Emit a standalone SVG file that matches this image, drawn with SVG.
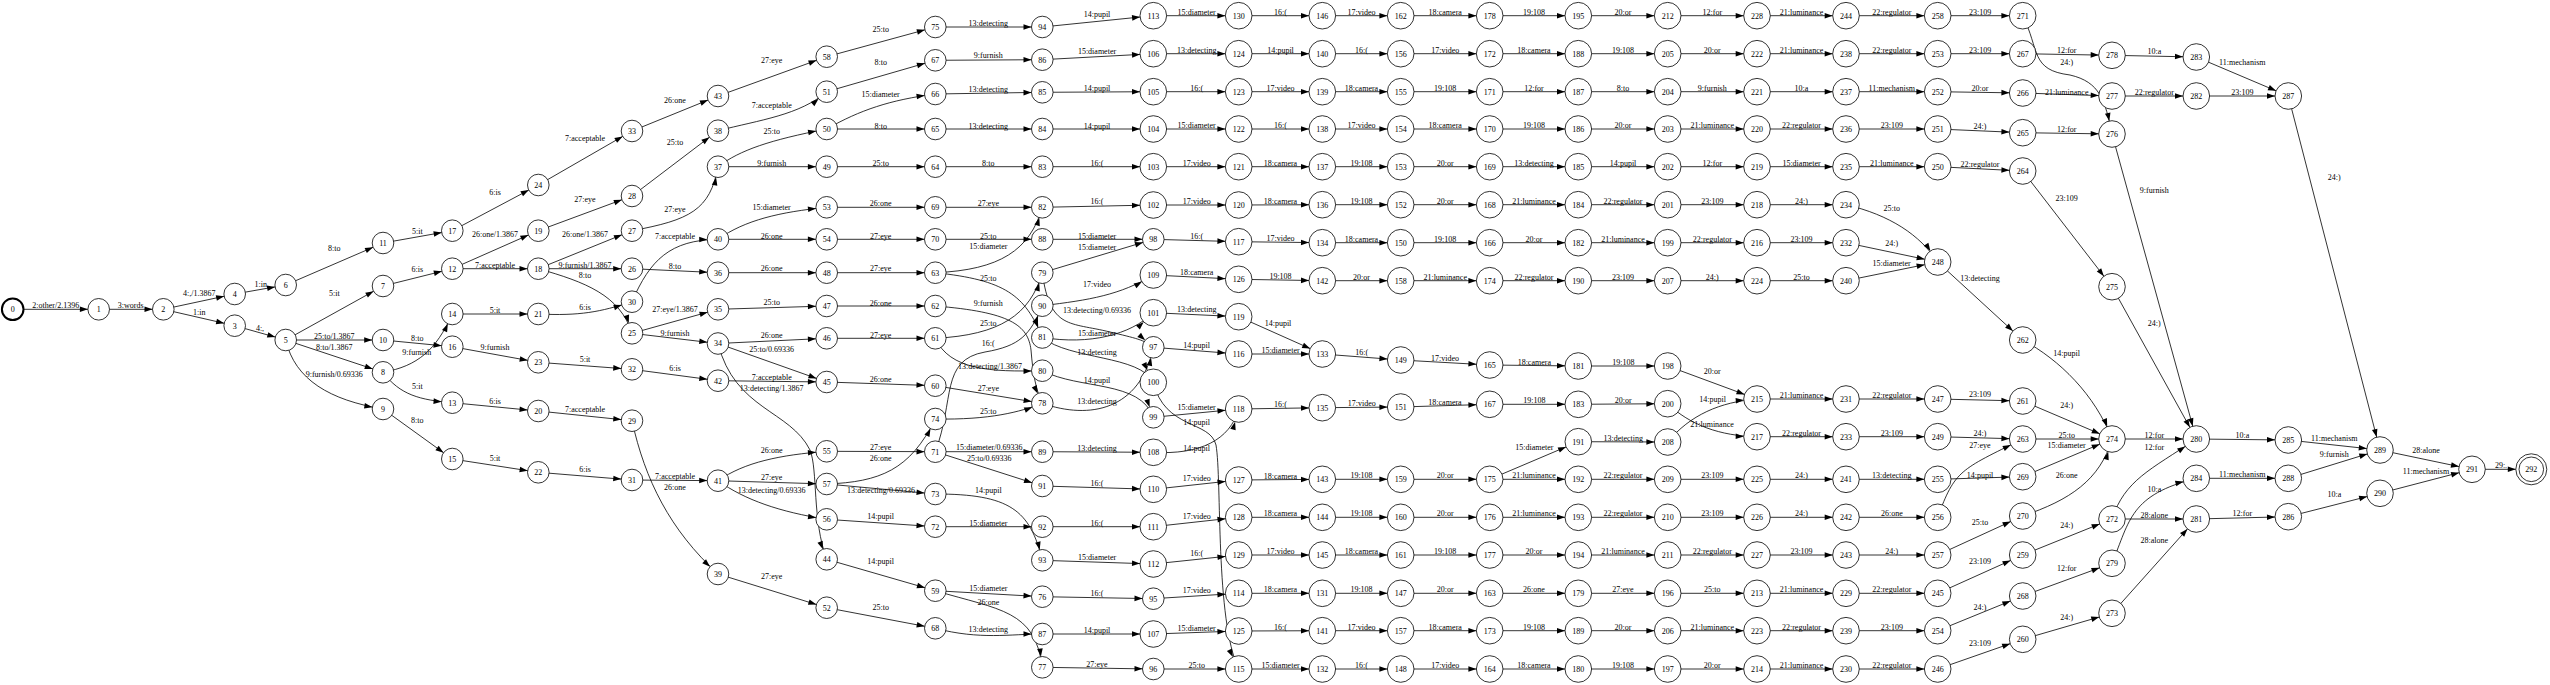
<svg xmlns="http://www.w3.org/2000/svg" width="2550" height="685" viewBox="0 0 2550 685">
<style>
text{font-family:"Liberation Serif","Times New Roman",serif;font-size:8px;text-anchor:middle;fill:#000}
#edges path{fill:none;stroke:#000;stroke-width:0.8;marker-end:url(#a)}
#edges .e3 path{marker-end:url(#b)}
#edges path.c{marker-end:url(#c)}
#nodes circle{fill:#fff;stroke:#000;stroke-width:0.8}
</style>
<defs>
<marker id="a" markerUnits="userSpaceOnUse" markerWidth="30" markerHeight="8" refX="18.8" refY="2.8" orient="auto" overflow="visible"><path d="M0,0L8,2.8L0,5.6z" fill="#000"/></marker>
<marker id="b" markerUnits="userSpaceOnUse" markerWidth="30" markerHeight="8" refX="21.3" refY="2.8" orient="auto" overflow="visible"><path d="M0,0L8,2.8L0,5.6z" fill="#000"/></marker>
<marker id="c" markerUnits="userSpaceOnUse" markerWidth="30" markerHeight="8" refX="23.5" refY="2.8" orient="auto" overflow="visible"><path d="M0,0L8,2.8L0,5.6z" fill="#000"/></marker>
</defs>
<rect width="2550" height="685" fill="#fff"/>
<g id="edges">
<g class="e1">
<path d="M12.7 309.3H98.7"/><text x="55.7" y="307.8">2:other/2.1396</text>
<path d="M98.7 309.3H163.3"/><text x="130.7" y="307.8">3:words</text>
<path d="M163.3 309.3L234.7 294"/><text x="199.3" y="296.1">4:,/1.3867</text>
<path d="M163.3 309.3L234.7 325.7"/><text x="199.3" y="314.5">1:in</text>
<path d="M234.7 294L285.7 285"/><text x="260.7" y="287.1">1:in</text>
<path d="M234.7 325.7L285.7 340"/><text x="260" y="331.1">4:,</text>
<path d="M285.7 285L383 243"/><text x="334.3" y="251.1">8:to</text>
<path d="M285.7 340L383 286"/><text x="334.3" y="295.5">5:it</text>
<path d="M285.7 340H383"/><text x="334.3" y="338.8">25:to/1.3867</text>
<path d="M285.7 340L383 372.3"/><text x="334.3" y="349.5">8:to/1.3867</text>
<path d="M285.7 340C295 380 330 400 383 409"/><text x="334.3" y="376.8">9:furnish/0.69336</text>
<path d="M383 243L452.3 230.7"/><text x="417.3" y="233.5">5:it</text>
<path d="M383 286L452.3 268.7"/><text x="417.3" y="272.1">6:is</text>
<path d="M383 340L452.3 346.7"/><text x="417.3" y="340.5">8:to</text>
<path d="M383 372.3C418 366 436 350 452.3 314"/><text x="416.7" y="354.5">9:furnish</text>
<path d="M383 372.3C400 395 420 400 452.3 402.7"/><text x="417.3" y="388.8">5:it</text>
<path d="M383 409L452.3 459"/><text x="417.3" y="422.8">8:to</text>
<path d="M452.3 230.7L538.3 185"/><text x="495" y="195.1">6:is</text>
<path d="M452.3 268.7L538.3 230.7"/><text x="495" y="236.8">26:one/1.3867</text>
<path d="M452.3 268.7H538.3"/><text x="495" y="267.8">7:acceptable</text>
<path d="M452.3 314H538.3"/><text x="495" y="312.8">5:it</text>
<path d="M452.3 346.7L538.3 362.3"/><text x="495" y="349.5">9:furnish</text>
<path d="M452.3 402.7L538.3 411"/><text x="495" y="403.8">6:is</text>
<path d="M452.3 459L538.3 472.3"/><text x="495" y="461.1">5:it</text>
<path d="M538.3 185L632 131"/><text x="585" y="141.1">7:acceptable</text>
<path d="M538.3 230.7L632 196"/><text x="585" y="202.1">27:eye</text>
<path d="M538.3 268.7L632 230.7"/><text x="585" y="236.8">26:one/1.3867</text>
<path d="M538.3 268.7H632"/><text x="585" y="267.8">9:furnish/1.3867</text>
<path d="M538.3 268.7C585 282 620 295 632 333.3"/><text x="585" y="278.1">8:to</text>
<path d="M538.3 314C580 316 600 312 632 301.7"/><text x="585" y="310.1">6:is</text>
<path d="M538.3 362.3L632 369.3"/><text x="585" y="362.1">5:it</text>
<path d="M538.3 411L632 420.7"/><text x="585" y="411.8">7:acceptable</text>
<path d="M538.3 472.3L632 480"/><text x="585" y="471.8">6:is</text>
<path d="M632 131L718 96"/><text x="675" y="102.8">26:one</text>
<path d="M632 196L718 130.7"/><text x="675" y="145.1">25:to</text>
<path d="M632 230.7C690 220 710 210 718 166.7"/><text x="675" y="212.1">27:eye</text>
<path d="M632 301.7C650 260 670 240 718 239.3"/><text x="675" y="238.8">7:acceptable</text>
<path d="M632 268.7L718 272.7"/><text x="675" y="268.8">8:to</text>
<path d="M632 333.3L718 309.3"/><text x="675" y="312.1">27:eye/1.3867</text>
<path d="M632 333.3L718 343.5"/><text x="675" y="335.5">9:furnish</text>
<path d="M632 369.3L718 380.7"/><text x="675" y="371.1">6:is</text>
<path d="M632 480L718 480.7"/><text x="675" y="478.8">7:acceptable</text>
<path d="M632 420.7C645 480 670 530 718 574"/><text x="675" y="489.8">26:one</text>
<path d="M718 96L826.7 56.7"/><text x="771.7" y="63.1">27:eye</text>
<path d="M718 130.7C760 120 800 115 826.7 91.7"/><text x="771.7" y="108.1">7:acceptable</text>
<path d="M718 166.7C740 150 770 140 826.7 129"/><text x="771.7" y="133.8">25:to</text>
<path d="M718 166.7H826.7"/><text x="771.7" y="166.1">9:furnish</text>
<path d="M718 239.3C745 220 780 212 826.7 207.3"/><text x="771.7" y="210.1">15:diameter</text>
<path d="M718 239.3H826.7"/><text x="771.7" y="238.8">26:one</text>
<path d="M718 272.7H826.7"/><text x="771.7" y="271.1">26:one</text>
<path d="M718 309.3L826.7 306"/><text x="771.7" y="305.1">25:to</text>
<path d="M718 343.5L826.7 338.3"/><text x="771.7" y="337.8">26:one</text>
<path d="M718 343.5L826.7 382"/><text x="771.7" y="351.8">25:to/0.69336</text>
<path d="M718 380.7L826.7 382"/><text x="771.7" y="380.1">7:acceptable</text>
<path d="M718 343.5C735 410 790 410 810 450C818 470 812 520 826.7 559.3"/><text x="771.7" y="391.1">13:detecting/1.3867</text>
<path d="M718 480.7C745 462 780 455 826.7 451.3"/><text x="771.7" y="452.8">26:one</text>
<path d="M718 480.7L826.7 484"/><text x="771.7" y="479.8">27:eye</text>
<path d="M718 480.7C745 500 780 512 826.7 519.3"/><text x="771.7" y="492.8">13:detecting/0.69336</text>
<path d="M718 574L826.7 607.7"/><text x="771.7" y="578.8">27:eye</text>
<path d="M826.7 56.7L935.3 27"/><text x="880.7" y="32.1">25:to</text>
<path d="M826.7 91.7L935.3 60.3"/><text x="880.7" y="65.1">8:to</text>
<path d="M826.7 129C860 110 890 100 935.3 94"/><text x="880.7" y="97.1">15:diameter</text>
<path d="M826.7 129H935.3"/><text x="880.7" y="128.5">8:to</text>
<path d="M826.7 166.7H935.3"/><text x="880.7" y="166.1">25:to</text>
<path d="M826.7 207.3H935.3"/><text x="880.7" y="206.1">26:one</text>
<path d="M826.7 239.3H935.3"/><text x="880.7" y="238.8">27:eye</text>
<path d="M826.7 272.7H935.3"/><text x="880.7" y="271.1">27:eye</text>
<path d="M826.7 306H935.3"/><text x="880.7" y="305.5">26:one</text>
<path d="M826.7 338.3H935.3"/><text x="880.7" y="337.8">27:eye</text>
<path d="M826.7 382L935.3 385.7"/><text x="880.7" y="381.8">26:one</text>
<path d="M826.7 451.3L935.3 451.7"/><text x="880.7" y="450.1">27:eye</text>
<path d="M826.7 484C880 482 910 470 935.3 419"/><text x="880.7" y="461.1">26:one</text>
<path d="M826.7 484L935.3 494"/><text x="881" y="492.8">13:detecting/0.69336</text>
<path d="M826.7 519.3L935.3 526.7"/><text x="880.7" y="518.8">14:pupil</text>
<path d="M826.7 559.3L935.3 590.7"/><text x="880.7" y="563.8">14:pupil</text>
<path d="M826.7 607.7L935.3 628.3"/><text x="880.7" y="610.1">25:to</text>
<path d="M935.3 27H1042.3"/><text x="988.3" y="26.1">13:detecting</text>
<path d="M935.3 60.3L1042.3 59.7"/><text x="988.3" y="57.8">9:furnish</text>
<path d="M935.3 94L1042.3 92.3"/><text x="988.3" y="91.8">13:detecting</text>
<path d="M935.3 129H1042.3"/><text x="988.3" y="128.5">13:detecting</text>
<path d="M935.3 166.7H1042.3"/><text x="988.3" y="166.1">8:to</text>
<path d="M935.3 207.3H1042.3"/><text x="988.3" y="206.1">27:eye</text>
<path d="M935.3 239.3H1042.3"/><text x="988.3" y="238.8">25:to</text>
<path d="M935.3 272.7C1000 270 1030 250 1042.3 207.3"/><text x="988.3" y="248.8">15:diameter</text>
<path d="M935.3 272.7C1005 280 1025 295 1042.3 337.5"/><text x="988.3" y="281.1">25:to</text>
<path d="M935.3 306C1010 312 1028 325 1031 350C1033 375 1036 390 1042.3 403.3"/><text x="988.3" y="306.1">9:furnish</text>
<path d="M935.3 338.3C1000 335 1030 315 1042.3 272.7"/><text x="988.3" y="326.1">25:to</text>
<path d="M935.3 451.7C955 400 940 360 985 352C1020 346 1030 335 1042.3 305.7"/><text x="988.3" y="346.1">16:(</text>
<path d="M935.3 338.3C950 370 990 372 1042.3 370.7"/><text x="990" y="368.8">13:detecting/1.3867</text>
<path d="M935.3 385.7L1042.3 403.3"/><text x="988.3" y="391.1">27:eye</text>
<path d="M935.3 419C990 420 1020 412 1042.3 403.3"/><text x="988.3" y="413.8">25:to</text>
<path d="M935.3 451.7H1042.3"/><text x="989.3" y="450.1">15:diameter/0.69336</text>
<path d="M935.3 451.7L1042.3 486"/><text x="989.3" y="461.1">25:to/0.69336</text>
<path d="M935.3 494C1010 494 1030 510 1042.3 560.3"/><text x="988.3" y="492.8">14:pupil</text>
<path d="M935.3 526.7H1042.3"/><text x="988.3" y="525.5">15:diameter</text>
<path d="M935.3 590.7L1042.3 596.7"/><text x="988.3" y="590.5">15:diameter</text>
<path d="M935.3 590.7C1000 610 1035 610 1042.3 667.3"/><text x="988.3" y="605.1">26:one</text>
<path d="M935.3 628.3C980 640 1010 634 1042.3 634"/><text x="988.3" y="632.1">13:detecting</text>
<path d="M1042.3 239.3H1153.3"/><text x="1097" y="238.8">15:diameter</text>
<path d="M1042.3 272.7L1153.3 239.3"/><text x="1097" y="249.5">15:diameter</text>
<path d="M1042.3 272.7C1050 330 1070 322 1110 332C1135 338 1145 340 1153.3 347.3"/><text x="1097" y="312.8">13:detecting/0.69336</text>
<path d="M1042.3 403.3C1090 420 1140 410 1153.3 347.3"/><text x="1097" y="403.8">13:detecting</text>
<path d="M1042.3 370.7C1080 390 1140 380 1153.3 417.3"/><text x="1097" y="382.8">14:pupil</text>
<path d="M1042.3 596.7L1153.3 598.7"/><text x="1097" y="595.5">16:(</text>
<path d="M1042.3 667.3L1153.3 669"/><text x="1097" y="666.8">27:eye</text>
</g>
<g class="e3">
<path d="M1042.3 27L1153.3 15.7"/><text x="1097" y="17.1">14:pupil</text>
<path d="M1042.3 59.7L1153.3 53.7"/><text x="1097" y="53.8">15:diameter</text>
<path d="M1042.3 92.3L1153.3 91.7"/><text x="1097" y="90.5">14:pupil</text>
<path d="M1042.3 129H1153.3"/><text x="1097" y="128.5">14:pupil</text>
<path d="M1042.3 166.7H1153.3"/><text x="1097" y="166.1">16:(</text>
<path d="M1042.3 207.3L1153.3 205"/><text x="1097" y="203.8">16:(</text>
<path d="M1042.3 305.7C1090 300 1120 295 1153.3 275"/><text x="1097" y="287.1">17:video</text>
<path d="M1042.3 337.5C1090 345 1130 335 1153.3 312.7"/><text x="1097" y="336.1">15:diameter</text>
<path d="M1042.3 337.5C1070 360 1140 355 1153.3 382.3"/><text x="1097" y="354.5">13:detecting</text>
<path d="M1042.3 451.7L1153.3 452.3"/><text x="1097" y="450.5">13:detecting</text>
<path d="M1042.3 486L1153.3 489.3"/><text x="1097" y="486.1">16:(</text>
<path d="M1042.3 526.7H1153.3"/><text x="1097" y="525.5">16:(</text>
<path d="M1042.3 560.3L1153.3 564"/><text x="1097" y="560.1">15:diameter</text>
<path d="M1042.3 634H1153.3"/><text x="1097" y="632.8">14:pupil</text>
<path d="M1153.3 15.7H1238.7"/><text x="1196.7" y="14.7">15:diameter</text>
<path d="M1153.3 53.7H1238.7"/><text x="1196.7" y="52.7">13:detecting</text>
<path d="M1153.3 91.7H1238.7"/><text x="1196.7" y="90.7">16:(</text>
<path d="M1153.3 129H1238.7"/><text x="1196.7" y="128">15:diameter</text>
<path d="M1153.3 166.7H1238.7"/><text x="1196.7" y="165.7">17:video</text>
<path d="M1153.3 205H1238.7"/><text x="1196.7" y="204">17:video</text>
<path d="M1153.3 239.3L1238.7 241.7"/><text x="1196.7" y="238.8">16:(</text>
<path d="M1153.3 275L1238.7 279.3"/><text x="1196.7" y="274.5">18:camera</text>
<path d="M1153.3 312.7L1238.7 316.7"/><text x="1196.7" y="312.1">13:detecting</text>
<path d="M1153.3 347.3L1238.7 354"/><text x="1196.7" y="347.8">14:pupil</text>
<path d="M1153.3 417.3L1238.7 409"/><text x="1196.7" y="409.5">15:diameter</text>
<path d="M1153.3 382.3C1165 430 1210 420 1216 445C1222 480 1215 620 1238.7 669"/><text x="1196.7" y="424.5">14:pupil</text>
<path d="M1153.3 452.3C1200 455 1230 440 1238.7 409"/><text x="1196.7" y="450.5">14:pupil</text>
<path d="M1153.3 489.3L1238.7 480"/><text x="1196.7" y="480.5">17:video</text>
<path d="M1153.3 526.7L1238.7 517.3"/><text x="1196.7" y="518.5">17:video</text>
<path d="M1153.3 564L1238.7 555"/><text x="1196.7" y="556.1">16:(</text>
<path d="M1153.3 598.7L1238.7 593.3"/><text x="1196.7" y="592.8">17:video</text>
<path d="M1153.3 634L1238.7 631"/><text x="1196.7" y="630.5">15:diameter</text>
<path d="M1153.3 669H1238.7"/><text x="1196.7" y="667.8">25:to</text>
<path d="M1238.7 15.7H1322.3"/><text x="1280.5" y="14.7">16:(</text>
<path d="M1238.7 53.7H1322.3"/><text x="1280.5" y="52.7">14:pupil</text>
<path d="M1238.7 91.7H1322.3"/><text x="1280.5" y="90.7">17:video</text>
<path d="M1238.7 129H1322.3"/><text x="1280.5" y="128">16:(</text>
<path d="M1238.7 166.7H1322.3"/><text x="1280.5" y="165.7">18:camera</text>
<path d="M1238.7 205L1322.3 204.7"/><text x="1280.5" y="203.8">18:camera</text>
<path d="M1238.7 241.7L1322.3 242.7"/><text x="1280.5" y="241.2">17:video</text>
<path d="M1238.7 279.3L1322.3 280.7"/><text x="1280.5" y="279">19:108</text>
<path d="M1238.7 316.7L1322.3 354"/><text x="1278" y="325.5">14:pupil</text>
<path d="M1238.7 354H1322.3"/><text x="1280.5" y="353">15:diameter</text>
<path d="M1238.7 409L1322.3 407.7"/><text x="1280.5" y="407.3">16:(</text>
<path d="M1238.7 480L1322.3 479.3"/><text x="1280.5" y="478.6">18:camera</text>
<path d="M1238.7 517.3H1322.3"/><text x="1280.5" y="516.3">18:camera</text>
<path d="M1238.7 555H1322.3"/><text x="1280.5" y="554">17:video</text>
<path d="M1238.7 593.3H1322.3"/><text x="1280.5" y="592.3">18:camera</text>
<path d="M1238.7 631L1322.3 630.7"/><text x="1280.5" y="629.8">16:(</text>
<path d="M1238.7 669H1322.3"/><text x="1280.5" y="668">15:diameter</text>
<path d="M1322.3 15.7H1400.7"/><text x="1361.5" y="14.7">17:video</text>
<path d="M1400.7 15.7H1489.7"/><text x="1445.2" y="14.7">18:camera</text>
<path d="M1489.7 15.7H1578.3"/><text x="1534" y="14.7">19:108</text>
<path d="M1578.3 15.7H1667.7"/><text x="1623" y="14.7">20:or</text>
<path d="M1667.7 15.7H1757"/><text x="1712.3" y="14.7">12:for</text>
<path d="M1757 15.7H1846"/><text x="1801.5" y="14.7">21:luminance</text>
<path d="M1846 15.7H1937.7"/><text x="1891.8" y="14.7">22:regulator</text>
<path d="M1937.7 15.7H2022.7"/><text x="1980.2" y="14.7">23:109</text>
<path d="M2022.7 15.7C2040 50 2030 70 2070 75C2100 82 2105 100 2112 134"/><text x="2066.7" y="64.5">24:)</text>
<path d="M1322.3 53.7H1400.7"/><text x="1361.5" y="52.7">16:(</text>
<path d="M1400.7 53.7H1489.7"/><text x="1445.2" y="52.7">17:video</text>
<path d="M1489.7 53.7H1578.3"/><text x="1534" y="52.7">18:camera</text>
<path d="M1578.3 53.7H1667.7"/><text x="1623" y="52.7">19:108</text>
<path d="M1667.7 53.7H1757"/><text x="1712.3" y="52.7">20:or</text>
<path d="M1757 53.7H1846"/><text x="1801.5" y="52.7">21:luminance</text>
<path d="M1846 53.7H1937.7"/><text x="1891.8" y="52.7">22:regulator</text>
<path d="M1937.7 53.7H2022.7"/><text x="1980.2" y="52.7">23:109</text>
<path d="M2022.7 53.7L2112 55.3"/><text x="2066.7" y="52.8">12:for</text>
<path d="M1322.3 91.7H1400.7"/><text x="1361.5" y="90.7">18:camera</text>
<path d="M1400.7 91.7H1489.7"/><text x="1445.2" y="90.7">19:108</text>
<path d="M1489.7 91.7H1578.3"/><text x="1534" y="90.7">12:for</text>
<path d="M1578.3 91.7H1667.7"/><text x="1623" y="90.7">8:to</text>
<path d="M1667.7 91.7H1757"/><text x="1712.3" y="90.7">9:furnish</text>
<path d="M1757 91.7H1846"/><text x="1801.5" y="90.7">10:a</text>
<path d="M1846 91.7H1937.7"/><text x="1891.8" y="90.7">11:mechanism</text>
<path d="M1937.7 91.7L2022.7 93"/><text x="1980" y="90.5">20:or</text>
<path d="M2022.7 93L2112 96"/><text x="2066.7" y="94.8">21:luminance</text>
<path d="M1322.3 129H1400.7"/><text x="1361.5" y="128">17:video</text>
<path d="M1400.7 129H1489.7"/><text x="1445.2" y="128">18:camera</text>
<path d="M1489.7 129H1578.3"/><text x="1534" y="128">19:108</text>
<path d="M1578.3 129H1667.7"/><text x="1623" y="128">20:or</text>
<path d="M1667.7 129H1757"/><text x="1712.3" y="128">21:luminance</text>
<path d="M1757 129H1846"/><text x="1801.5" y="128">22:regulator</text>
<path d="M1846 129H1937.7"/><text x="1891.8" y="128">23:109</text>
<path d="M1937.7 129L2022.7 132.7"/><text x="1980" y="128.8">24:)</text>
<path d="M2022.7 132.7L2112 134"/><text x="2066.7" y="131.8">12:for</text>
<path d="M1322.3 166.7H1400.7"/><text x="1361.5" y="165.7">19:108</text>
<path d="M1400.7 166.7H1489.7"/><text x="1445.2" y="165.7">20:or</text>
<path d="M1489.7 166.7H1578.3"/><text x="1534" y="165.7">13:detecting</text>
<path d="M1578.3 166.7H1667.7"/><text x="1623" y="165.7">14:pupil</text>
<path d="M1667.7 166.7H1757"/><text x="1712.3" y="165.7">12:for</text>
<path d="M1757 166.7H1846"/><text x="1801.5" y="165.7">15:diameter</text>
<path d="M1846 166.7H1937.7"/><text x="1891.8" y="165.7">21:luminance</text>
<path d="M1937.7 166.7L2022.7 171"/><text x="1980" y="166.8">22:regulator</text>
<path d="M2022.7 171L2112 286.7"/><text x="2066.7" y="201.1">23:109</text>
<path d="M1322.3 204.7H1400.7"/><text x="1361.5" y="203.7">19:108</text>
<path d="M1400.7 204.7H1489.7"/><text x="1445.2" y="203.7">20:or</text>
<path d="M1489.7 204.7H1578.3"/><text x="1534" y="203.7">21:luminance</text>
<path d="M1578.3 204.7H1667.7"/><text x="1623" y="203.7">22:regulator</text>
<path d="M1667.7 204.7H1757"/><text x="1712.3" y="203.7">23:109</text>
<path d="M1757 204.7H1846"/><text x="1801.5" y="203.7">24:)</text>
<path d="M1846 204.7C1890 215 1920 235 1937.7 262"/><text x="1891.7" y="211.1">25:to</text>
<path d="M1322.3 242.7H1400.7"/><text x="1361.5" y="241.7">18:camera</text>
<path d="M1400.7 242.7H1489.7"/><text x="1445.2" y="241.7">19:108</text>
<path d="M1489.7 242.7H1578.3"/><text x="1534" y="241.7">20:or</text>
<path d="M1578.3 242.7H1667.7"/><text x="1623" y="241.7">21:luminance</text>
<path d="M1667.7 242.7H1757"/><text x="1712.3" y="241.7">22:regulator</text>
<path d="M1757 242.7H1846"/><text x="1801.5" y="241.7">23:109</text>
<path d="M1846 242.7L1937.7 262"/><text x="1891.7" y="246.1">24:)</text>
<path d="M1322.3 280.7H1400.7"/><text x="1361.5" y="279.7">20:or</text>
<path d="M1400.7 280.7H1489.7"/><text x="1445.2" y="279.7">21:luminance</text>
<path d="M1489.7 280.7H1578.3"/><text x="1534" y="279.7">22:regulator</text>
<path d="M1578.3 280.7H1667.7"/><text x="1623" y="279.7">23:109</text>
<path d="M1667.7 280.7H1757"/><text x="1712.3" y="279.7">24:)</text>
<path d="M1757 280.7H1846"/><text x="1801.5" y="279.7">25:to</text>
<path d="M1846 280.7L1937.7 262"/><text x="1891.7" y="266.1">15:diameter</text>
<path d="M1937.7 262L2022.7 340"/><text x="1980" y="281.1">13:detecting</text>
<path d="M2022.7 340C2060 360 2095 395 2112 439"/><text x="2066.7" y="355.5">14:pupil</text>
<path d="M1322.3 354L1400.7 360"/><text x="1361.7" y="355.1">16:(</text>
<path d="M1400.7 360L1489.7 365"/><text x="1445" y="360.5">17:video</text>
<path d="M1489.7 365L1578.3 366"/><text x="1534.3" y="364.5">18:camera</text>
<path d="M1578.3 366H1667.7"/><text x="1623.3" y="365.1">19:108</text>
<path d="M1667.7 366L1757 399"/><text x="1712.3" y="373.8">20:or</text>
<path d="M1322.3 407.7L1400.7 407"/><text x="1361.7" y="405.5">17:video</text>
<path d="M1400.7 407L1489.7 404.3"/><text x="1445" y="404.5">18:camera</text>
<path d="M1489.7 404.3H1578.3"/><text x="1534.3" y="403.1">19:108</text>
<path d="M1578.3 404.3L1667.7 403.7"/><text x="1623.3" y="403.1">20:or</text>
<path d="M1667.7 403.7C1690 425 1720 436 1757 436.7"/><text x="1712" y="426.8">21:luminance</text>
<path d="M1667.7 442C1690 415 1720 402 1757 399"/><text x="1712.6" y="401.8">14:pupil</text>
<path d="M1489.7 479.3L1578.3 441.7"/><text x="1534.3" y="449.5">15:diameter</text>
<path d="M1578.3 441.7L1667.7 442"/><text x="1623.3" y="441.1">13:detecting</text>
<path d="M1757 399H1846"/><text x="1801.5" y="398">21:luminance</text>
<path d="M1846 399H1937.7"/><text x="1891.8" y="398">22:regulator</text>
<path d="M1937.7 399L2022.7 401"/><text x="1980" y="397.1">23:109</text>
<path d="M2022.7 401L2112 439"/><text x="2066.7" y="407.8">24:)</text>
<path d="M1757 436.7H1846"/><text x="1801.5" y="435.7">22:regulator</text>
<path d="M1846 436.7H1937.7"/><text x="1891.8" y="435.7">23:109</text>
<path d="M1937.7 436.7L2022.7 439"/><text x="1980" y="436.1">24:)</text>
<path d="M2022.7 439H2112"/><text x="2066.7" y="438.1">25:to</text>
<path d="M1322.3 479.3H1400.7"/><text x="1361.5" y="478.3">19:108</text>
<path d="M1400.7 479.3H1489.7"/><text x="1445.2" y="478.3">20:or</text>
<path d="M1489.7 479.3H1578.3"/><text x="1534" y="478.3">21:luminance</text>
<path d="M1578.3 479.3H1667.7"/><text x="1623" y="478.3">22:regulator</text>
<path d="M1667.7 479.3H1757"/><text x="1712.3" y="478.3">23:109</text>
<path d="M1757 479.3H1846"/><text x="1801.5" y="478.3">24:)</text>
<path d="M1846 479.3H1937.7"/><text x="1891.8" y="478.3">13:detecting</text>
<path d="M1937.7 479.3L2022.7 476.7"/><text x="1980" y="478.1">14:pupil</text>
<path d="M2022.7 476.7L2112 439"/><text x="2066.7" y="448.1">15:diameter</text>
<path d="M1322.3 517.3H1400.7"/><text x="1361.5" y="516.3">19:108</text>
<path d="M1400.7 517.3H1489.7"/><text x="1445.2" y="516.3">20:or</text>
<path d="M1489.7 517.3H1578.3"/><text x="1534" y="516.3">21:luminance</text>
<path d="M1578.3 517.3H1667.7"/><text x="1623" y="516.3">22:regulator</text>
<path d="M1667.7 517.3H1757"/><text x="1712.3" y="516.3">23:109</text>
<path d="M1757 517.3H1846"/><text x="1801.5" y="516.3">24:)</text>
<path d="M1846 517.3H1937.7"/><text x="1891.8" y="516.3">26:one</text>
<path d="M1937.7 517.3C1955 470 1960 470 2022.7 439"/><text x="1980" y="448.1">27:eye</text>
<path d="M1322.3 555H1400.7"/><text x="1361.5" y="554">18:camera</text>
<path d="M1400.7 555H1489.7"/><text x="1445.2" y="554">19:108</text>
<path d="M1489.7 555H1578.3"/><text x="1534" y="554">20:or</text>
<path d="M1578.3 555H1667.7"/><text x="1623" y="554">21:luminance</text>
<path d="M1667.7 555H1757"/><text x="1712.3" y="554">22:regulator</text>
<path d="M1757 555H1846"/><text x="1801.5" y="554">23:109</text>
<path d="M1846 555H1937.7"/><text x="1891.8" y="554">24:)</text>
<path d="M1937.7 555L2022.7 516"/><text x="1980" y="525.1">25:to</text>
<path d="M2022.7 516C2070 500 2100 480 2112 439"/><text x="2066.7" y="477.8">26:one</text>
<path d="M1322.3 593.3H1400.7"/><text x="1361.5" y="592.3">19:108</text>
<path d="M1400.7 593.3H1489.7"/><text x="1445.2" y="592.3">20:or</text>
<path d="M1489.7 593.3H1578.3"/><text x="1534" y="592.3">26:one</text>
<path d="M1578.3 593.3H1667.7"/><text x="1623" y="592.3">27:eye</text>
<path d="M1667.7 593.3H1757"/><text x="1712.3" y="592.3">25:to</text>
<path d="M1757 593.3H1846"/><text x="1801.5" y="592.3">21:luminance</text>
<path d="M1846 593.3H1937.7"/><text x="1891.8" y="592.3">22:regulator</text>
<path d="M1937.7 593.3L2022.7 555"/><text x="1980" y="563.8">23:109</text>
<path d="M2022.7 555L2112 519"/><text x="2066.7" y="527.8">24:)</text>
<path d="M1322.3 630.7H1400.7"/><text x="1361.5" y="629.7">17:video</text>
<path d="M1400.7 630.7H1489.7"/><text x="1445.2" y="629.7">18:camera</text>
<path d="M1489.7 630.7H1578.3"/><text x="1534" y="629.7">19:108</text>
<path d="M1578.3 630.7H1667.7"/><text x="1623" y="629.7">20:or</text>
<path d="M1667.7 630.7H1757"/><text x="1712.3" y="629.7">21:luminance</text>
<path d="M1757 630.7H1846"/><text x="1801.5" y="629.7">22:regulator</text>
<path d="M1846 630.7H1937.7"/><text x="1891.8" y="629.7">23:109</text>
<path d="M1937.7 630.7L2022.7 596"/><text x="1980" y="609.5">24:)</text>
<path d="M2022.7 596L2112 563.3"/><text x="2066.7" y="571.1">12:for</text>
<path d="M1322.3 669H1400.7"/><text x="1361.5" y="668">16:(</text>
<path d="M1400.7 669H1489.7"/><text x="1445.2" y="668">17:video</text>
<path d="M1489.7 669H1578.3"/><text x="1534" y="668">18:camera</text>
<path d="M1578.3 669H1667.7"/><text x="1623" y="668">19:108</text>
<path d="M1667.7 669H1757"/><text x="1712.3" y="668">20:or</text>
<path d="M1757 669H1846"/><text x="1801.5" y="668">21:luminance</text>
<path d="M1846 669H1937.7"/><text x="1891.8" y="668">22:regulator</text>
<path d="M1937.7 669L2022.7 639.3"/><text x="1980" y="646.1">23:109</text>
<path d="M2022.7 639.3L2112 613.3"/><text x="2066.7" y="619.5">24:)</text>
<path d="M2112 439H2196.3"/><text x="2154.3" y="437.5">12:for</text>
<path d="M2112 519C2125 480 2150 470 2196.3 439"/><text x="2154.3" y="450.1">12:for</text>
<path d="M2112 519H2196.3"/><text x="2154.3" y="517.8">28:alone</text>
<path d="M2112 613.3L2196.3 519"/><text x="2154.3" y="542.8">28:alone</text>
<path d="M2112 563.3C2130 520 2130 495 2196.3 478.3"/><text x="2154.3" y="491.8">10:a</text>
<path d="M2112 286.7L2196.3 439"/><text x="2154.3" y="326.1">24:)</text>
<path d="M2112 134L2196.3 439"/><text x="2154.3" y="192.8">9:furnish</text>
<path d="M2112 96H2196.3"/><text x="2154.3" y="95.1">22:regulator</text>
<path d="M2112 55.3L2196.3 57"/><text x="2154.3" y="53.8">10:a</text>
<path d="M2196.3 96H2288.3"/><text x="2242.3" y="94.5">23:109</text>
<path d="M2196.3 57L2288.3 96"/><text x="2242.3" y="64.8">11:mechanism</text>
<path d="M2288.3 96L2380 450"/><text x="2334.3" y="180.1">24:)</text>
<path d="M2196.3 439L2288.3 440"/><text x="2242.3" y="437.8">10:a</text>
<path d="M2196.3 478.3H2288.3"/><text x="2242.3" y="476.8">11:mechanism</text>
<path d="M2196.3 519L2288.3 516.7"/><text x="2242.3" y="515.5">12:for</text>
<path d="M2288.3 440L2380 450"/><text x="2334.3" y="441.1">11:mechanism</text>
<path d="M2288.3 478.3L2380 450"/><text x="2334.3" y="456.8">9:furnish</text>
<path d="M2288.3 516.7L2380 493.3"/><text x="2334.3" y="496.8">10:a</text>
<path d="M2380 450L2472 469.3"/><text x="2426" y="452.8">28:alone</text>
<path d="M2380 493.3L2472 469.3"/><text x="2426" y="473.8">11:mechanism</text>
<path class="c" d="M2472 469.3H2531.3"/><text x="2501" y="467.8">29:.</text>
</g>
</g>
<g id="nodes">
<g id="n0"><circle cx="12.7" cy="309.3" r="10.8" style="stroke-width:2"/><text x="12.7" y="312.1">0</text></g>
<g id="n1"><circle cx="98.7" cy="309.3" r="10.8"/><text x="98.7" y="312.1">1</text></g>
<g id="n2"><circle cx="163.3" cy="309.3" r="10.8"/><text x="163.3" y="312.1">2</text></g>
<g id="n3"><circle cx="234.7" cy="325.7" r="10.8"/><text x="234.7" y="328.5">3</text></g>
<g id="n4"><circle cx="234.7" cy="294" r="10.8"/><text x="234.7" y="296.8">4</text></g>
<g id="n5"><circle cx="285.7" cy="340" r="10.8"/><text x="285.7" y="342.8">5</text></g>
<g id="n6"><circle cx="285.7" cy="285" r="10.8"/><text x="285.7" y="287.8">6</text></g>
<g id="n7"><circle cx="383" cy="286" r="10.8"/><text x="383" y="288.8">7</text></g>
<g id="n8"><circle cx="383" cy="372.3" r="10.8"/><text x="383" y="375.1">8</text></g>
<g id="n9"><circle cx="383" cy="409" r="10.8"/><text x="383" y="411.8">9</text></g>
<g id="n10"><circle cx="383" cy="340" r="10.8"/><text x="383" y="342.8">10</text></g>
<g id="n11"><circle cx="383" cy="243" r="10.8"/><text x="383" y="245.8">11</text></g>
<g id="n12"><circle cx="452.3" cy="268.7" r="10.8"/><text x="452.3" y="271.5">12</text></g>
<g id="n13"><circle cx="452.3" cy="402.7" r="10.8"/><text x="452.3" y="405.5">13</text></g>
<g id="n14"><circle cx="452.3" cy="314" r="10.8"/><text x="452.3" y="316.8">14</text></g>
<g id="n15"><circle cx="452.3" cy="459" r="10.8"/><text x="452.3" y="461.8">15</text></g>
<g id="n16"><circle cx="452.3" cy="346.7" r="10.8"/><text x="452.3" y="349.5">16</text></g>
<g id="n17"><circle cx="452.3" cy="230.7" r="10.8"/><text x="452.3" y="233.5">17</text></g>
<g id="n18"><circle cx="538.3" cy="268.7" r="10.8"/><text x="538.3" y="271.5">18</text></g>
<g id="n19"><circle cx="538.3" cy="230.7" r="10.8"/><text x="538.3" y="233.5">19</text></g>
<g id="n20"><circle cx="538.3" cy="411" r="10.8"/><text x="538.3" y="413.8">20</text></g>
<g id="n21"><circle cx="538.3" cy="314" r="10.8"/><text x="538.3" y="316.8">21</text></g>
<g id="n22"><circle cx="538.3" cy="472.3" r="10.8"/><text x="538.3" y="475.1">22</text></g>
<g id="n23"><circle cx="538.3" cy="362.3" r="10.8"/><text x="538.3" y="365.1">23</text></g>
<g id="n24"><circle cx="538.3" cy="185" r="10.8"/><text x="538.3" y="187.8">24</text></g>
<g id="n25"><circle cx="632" cy="333.3" r="10.8"/><text x="632" y="336.1">25</text></g>
<g id="n26"><circle cx="632" cy="268.7" r="10.8"/><text x="632" y="271.5">26</text></g>
<g id="n27"><circle cx="632" cy="230.7" r="10.8"/><text x="632" y="233.5">27</text></g>
<g id="n28"><circle cx="632" cy="196" r="10.8"/><text x="632" y="198.8">28</text></g>
<g id="n29"><circle cx="632" cy="420.7" r="10.8"/><text x="632" y="423.5">29</text></g>
<g id="n30"><circle cx="632" cy="301.7" r="10.8"/><text x="632" y="304.5">30</text></g>
<g id="n31"><circle cx="632" cy="480" r="10.8"/><text x="632" y="482.8">31</text></g>
<g id="n32"><circle cx="632" cy="369.3" r="10.8"/><text x="632" y="372.1">32</text></g>
<g id="n33"><circle cx="632" cy="131" r="10.8"/><text x="632" y="133.8">33</text></g>
<g id="n34"><circle cx="718" cy="343.5" r="10.8"/><text x="718" y="346.3">34</text></g>
<g id="n35"><circle cx="718" cy="309.3" r="10.8"/><text x="718" y="312.1">35</text></g>
<g id="n36"><circle cx="718" cy="272.7" r="10.8"/><text x="718" y="275.5">36</text></g>
<g id="n37"><circle cx="718" cy="166.7" r="10.8"/><text x="718" y="169.5">37</text></g>
<g id="n38"><circle cx="718" cy="130.7" r="10.8"/><text x="718" y="133.5">38</text></g>
<g id="n39"><circle cx="718" cy="574" r="10.8"/><text x="718" y="576.8">39</text></g>
<g id="n40"><circle cx="718" cy="239.3" r="10.8"/><text x="718" y="242.1">40</text></g>
<g id="n41"><circle cx="718" cy="480.7" r="10.8"/><text x="718" y="483.5">41</text></g>
<g id="n42"><circle cx="718" cy="380.7" r="10.8"/><text x="718" y="383.5">42</text></g>
<g id="n43"><circle cx="718" cy="96" r="10.8"/><text x="718" y="98.8">43</text></g>
<g id="n44"><circle cx="826.7" cy="559.3" r="10.8"/><text x="826.7" y="562.1">44</text></g>
<g id="n45"><circle cx="826.7" cy="382" r="10.8"/><text x="826.7" y="384.8">45</text></g>
<g id="n46"><circle cx="826.7" cy="338.3" r="10.8"/><text x="826.7" y="341.1">46</text></g>
<g id="n47"><circle cx="826.7" cy="306" r="10.8"/><text x="826.7" y="308.8">47</text></g>
<g id="n48"><circle cx="826.7" cy="272.7" r="10.8"/><text x="826.7" y="275.5">48</text></g>
<g id="n49"><circle cx="826.7" cy="166.7" r="10.8"/><text x="826.7" y="169.5">49</text></g>
<g id="n50"><circle cx="826.7" cy="129" r="10.8"/><text x="826.7" y="131.8">50</text></g>
<g id="n51"><circle cx="826.7" cy="91.7" r="10.8"/><text x="826.7" y="94.5">51</text></g>
<g id="n52"><circle cx="826.7" cy="607.7" r="10.8"/><text x="826.7" y="610.5">52</text></g>
<g id="n53"><circle cx="826.7" cy="207.3" r="10.8"/><text x="826.7" y="210.1">53</text></g>
<g id="n54"><circle cx="826.7" cy="239.3" r="10.8"/><text x="826.7" y="242.1">54</text></g>
<g id="n55"><circle cx="826.7" cy="451.3" r="10.8"/><text x="826.7" y="454.1">55</text></g>
<g id="n56"><circle cx="826.7" cy="519.3" r="10.8"/><text x="826.7" y="522.1">56</text></g>
<g id="n57"><circle cx="826.7" cy="484" r="10.8"/><text x="826.7" y="486.8">57</text></g>
<g id="n58"><circle cx="826.7" cy="56.7" r="10.8"/><text x="826.7" y="59.5">58</text></g>
<g id="n59"><circle cx="935.3" cy="590.7" r="10.8"/><text x="935.3" y="593.5">59</text></g>
<g id="n60"><circle cx="935.3" cy="385.7" r="10.8"/><text x="935.3" y="388.5">60</text></g>
<g id="n61"><circle cx="935.3" cy="338.3" r="10.8"/><text x="935.3" y="341.1">61</text></g>
<g id="n62"><circle cx="935.3" cy="306" r="10.8"/><text x="935.3" y="308.8">62</text></g>
<g id="n63"><circle cx="935.3" cy="272.7" r="10.8"/><text x="935.3" y="275.5">63</text></g>
<g id="n64"><circle cx="935.3" cy="166.7" r="10.8"/><text x="935.3" y="169.5">64</text></g>
<g id="n65"><circle cx="935.3" cy="129" r="10.8"/><text x="935.3" y="131.8">65</text></g>
<g id="n66"><circle cx="935.3" cy="94" r="10.8"/><text x="935.3" y="96.8">66</text></g>
<g id="n67"><circle cx="935.3" cy="60.3" r="10.8"/><text x="935.3" y="63.1">67</text></g>
<g id="n68"><circle cx="935.3" cy="628.3" r="10.8"/><text x="935.3" y="631.1">68</text></g>
<g id="n69"><circle cx="935.3" cy="207.3" r="10.8"/><text x="935.3" y="210.1">69</text></g>
<g id="n70"><circle cx="935.3" cy="239.3" r="10.8"/><text x="935.3" y="242.1">70</text></g>
<g id="n71"><circle cx="935.3" cy="451.7" r="10.8"/><text x="935.3" y="454.5">71</text></g>
<g id="n72"><circle cx="935.3" cy="526.7" r="10.8"/><text x="935.3" y="529.5">72</text></g>
<g id="n73"><circle cx="935.3" cy="494" r="10.8"/><text x="935.3" y="496.8">73</text></g>
<g id="n74"><circle cx="935.3" cy="419" r="10.8"/><text x="935.3" y="421.8">74</text></g>
<g id="n75"><circle cx="935.3" cy="27" r="10.8"/><text x="935.3" y="29.8">75</text></g>
<g id="n76"><circle cx="1042.3" cy="596.7" r="10.8"/><text x="1042.3" y="599.5">76</text></g>
<g id="n77"><circle cx="1042.3" cy="667.3" r="10.8"/><text x="1042.3" y="670.1">77</text></g>
<g id="n78"><circle cx="1042.3" cy="403.3" r="10.8"/><text x="1042.3" y="406.1">78</text></g>
<g id="n79"><circle cx="1042.3" cy="272.7" r="10.8"/><text x="1042.3" y="275.5">79</text></g>
<g id="n80"><circle cx="1042.3" cy="370.7" r="10.8"/><text x="1042.3" y="373.5">80</text></g>
<g id="n81"><circle cx="1042.3" cy="337.5" r="10.8"/><text x="1042.3" y="340.3">81</text></g>
<g id="n82"><circle cx="1042.3" cy="207.3" r="10.8"/><text x="1042.3" y="210.1">82</text></g>
<g id="n83"><circle cx="1042.3" cy="166.7" r="10.8"/><text x="1042.3" y="169.5">83</text></g>
<g id="n84"><circle cx="1042.3" cy="129" r="10.8"/><text x="1042.3" y="131.8">84</text></g>
<g id="n85"><circle cx="1042.3" cy="92.3" r="10.8"/><text x="1042.3" y="95.1">85</text></g>
<g id="n86"><circle cx="1042.3" cy="59.7" r="10.8"/><text x="1042.3" y="62.5">86</text></g>
<g id="n87"><circle cx="1042.3" cy="634" r="10.8"/><text x="1042.3" y="636.8">87</text></g>
<g id="n88"><circle cx="1042.3" cy="239.3" r="10.8"/><text x="1042.3" y="242.1">88</text></g>
<g id="n89"><circle cx="1042.3" cy="451.7" r="10.8"/><text x="1042.3" y="454.5">89</text></g>
<g id="n90"><circle cx="1042.3" cy="305.7" r="10.8"/><text x="1042.3" y="308.5">90</text></g>
<g id="n91"><circle cx="1042.3" cy="486" r="10.8"/><text x="1042.3" y="488.8">91</text></g>
<g id="n92"><circle cx="1042.3" cy="526.7" r="10.8"/><text x="1042.3" y="529.5">92</text></g>
<g id="n93"><circle cx="1042.3" cy="560.3" r="10.8"/><text x="1042.3" y="563.1">93</text></g>
<g id="n94"><circle cx="1042.3" cy="27" r="10.8"/><text x="1042.3" y="29.8">94</text></g>
<g id="n95"><circle cx="1153.3" cy="598.7" r="10.8"/><text x="1153.3" y="601.5">95</text></g>
<g id="n96"><circle cx="1153.3" cy="669" r="10.8"/><text x="1153.3" y="671.8">96</text></g>
<g id="n97"><circle cx="1153.3" cy="347.3" r="10.8"/><text x="1153.3" y="350.1">97</text></g>
<g id="n98"><circle cx="1153.3" cy="239.3" r="10.8"/><text x="1153.3" y="242.1">98</text></g>
<g id="n99"><circle cx="1153.3" cy="417.3" r="10.8"/><text x="1153.3" y="420.1">99</text></g>
<g id="n100"><circle cx="1153.3" cy="382.3" r="13.3"/><text x="1153.3" y="385.1">100</text></g>
<g id="n101"><circle cx="1153.3" cy="312.7" r="13.3"/><text x="1153.3" y="315.5">101</text></g>
<g id="n102"><circle cx="1153.3" cy="205" r="13.3"/><text x="1153.3" y="207.8">102</text></g>
<g id="n103"><circle cx="1153.3" cy="166.7" r="13.3"/><text x="1153.3" y="169.5">103</text></g>
<g id="n104"><circle cx="1153.3" cy="129" r="13.3"/><text x="1153.3" y="131.8">104</text></g>
<g id="n105"><circle cx="1153.3" cy="91.7" r="13.3"/><text x="1153.3" y="94.5">105</text></g>
<g id="n106"><circle cx="1153.3" cy="53.7" r="13.3"/><text x="1153.3" y="56.5">106</text></g>
<g id="n107"><circle cx="1153.3" cy="634" r="13.3"/><text x="1153.3" y="636.8">107</text></g>
<g id="n108"><circle cx="1153.3" cy="452.3" r="13.3"/><text x="1153.3" y="455.1">108</text></g>
<g id="n109"><circle cx="1153.3" cy="275" r="13.3"/><text x="1153.3" y="277.8">109</text></g>
<g id="n110"><circle cx="1153.3" cy="489.3" r="13.3"/><text x="1153.3" y="492.1">110</text></g>
<g id="n111"><circle cx="1153.3" cy="526.7" r="13.3"/><text x="1153.3" y="529.5">111</text></g>
<g id="n112"><circle cx="1153.3" cy="564" r="13.3"/><text x="1153.3" y="566.8">112</text></g>
<g id="n113"><circle cx="1153.3" cy="15.7" r="13.3"/><text x="1153.3" y="18.5">113</text></g>
<g id="n114"><circle cx="1238.7" cy="593.3" r="13.3"/><text x="1238.7" y="596.1">114</text></g>
<g id="n115"><circle cx="1238.7" cy="669" r="13.3"/><text x="1238.7" y="671.8">115</text></g>
<g id="n116"><circle cx="1238.7" cy="354" r="13.3"/><text x="1238.7" y="356.8">116</text></g>
<g id="n117"><circle cx="1238.7" cy="241.7" r="13.3"/><text x="1238.7" y="244.5">117</text></g>
<g id="n118"><circle cx="1238.7" cy="409" r="13.3"/><text x="1238.7" y="411.8">118</text></g>
<g id="n119"><circle cx="1238.7" cy="316.7" r="13.3"/><text x="1238.7" y="319.5">119</text></g>
<g id="n120"><circle cx="1238.7" cy="205" r="13.3"/><text x="1238.7" y="207.8">120</text></g>
<g id="n121"><circle cx="1238.7" cy="166.7" r="13.3"/><text x="1238.7" y="169.5">121</text></g>
<g id="n122"><circle cx="1238.7" cy="129" r="13.3"/><text x="1238.7" y="131.8">122</text></g>
<g id="n123"><circle cx="1238.7" cy="91.7" r="13.3"/><text x="1238.7" y="94.5">123</text></g>
<g id="n124"><circle cx="1238.7" cy="53.7" r="13.3"/><text x="1238.7" y="56.5">124</text></g>
<g id="n125"><circle cx="1238.7" cy="631" r="13.3"/><text x="1238.7" y="633.8">125</text></g>
<g id="n126"><circle cx="1238.7" cy="279.3" r="13.3"/><text x="1238.7" y="282.1">126</text></g>
<g id="n127"><circle cx="1238.7" cy="480" r="13.3"/><text x="1238.7" y="482.8">127</text></g>
<g id="n128"><circle cx="1238.7" cy="517.3" r="13.3"/><text x="1238.7" y="520.1">128</text></g>
<g id="n129"><circle cx="1238.7" cy="555" r="13.3"/><text x="1238.7" y="557.8">129</text></g>
<g id="n130"><circle cx="1238.7" cy="15.7" r="13.3"/><text x="1238.7" y="18.5">130</text></g>
<g id="n131"><circle cx="1322.3" cy="593.3" r="13.3"/><text x="1322.3" y="596.1">131</text></g>
<g id="n132"><circle cx="1322.3" cy="669" r="13.3"/><text x="1322.3" y="671.8">132</text></g>
<g id="n133"><circle cx="1322.3" cy="354" r="13.3"/><text x="1322.3" y="356.8">133</text></g>
<g id="n134"><circle cx="1322.3" cy="242.7" r="13.3"/><text x="1322.3" y="245.5">134</text></g>
<g id="n135"><circle cx="1322.3" cy="407.7" r="13.3"/><text x="1322.3" y="410.5">135</text></g>
<g id="n136"><circle cx="1322.3" cy="204.7" r="13.3"/><text x="1322.3" y="207.5">136</text></g>
<g id="n137"><circle cx="1322.3" cy="166.7" r="13.3"/><text x="1322.3" y="169.5">137</text></g>
<g id="n138"><circle cx="1322.3" cy="129" r="13.3"/><text x="1322.3" y="131.8">138</text></g>
<g id="n139"><circle cx="1322.3" cy="91.7" r="13.3"/><text x="1322.3" y="94.5">139</text></g>
<g id="n140"><circle cx="1322.3" cy="53.7" r="13.3"/><text x="1322.3" y="56.5">140</text></g>
<g id="n141"><circle cx="1322.3" cy="630.7" r="13.3"/><text x="1322.3" y="633.5">141</text></g>
<g id="n142"><circle cx="1322.3" cy="280.7" r="13.3"/><text x="1322.3" y="283.5">142</text></g>
<g id="n143"><circle cx="1322.3" cy="479.3" r="13.3"/><text x="1322.3" y="482.1">143</text></g>
<g id="n144"><circle cx="1322.3" cy="517.3" r="13.3"/><text x="1322.3" y="520.1">144</text></g>
<g id="n145"><circle cx="1322.3" cy="555" r="13.3"/><text x="1322.3" y="557.8">145</text></g>
<g id="n146"><circle cx="1322.3" cy="15.7" r="13.3"/><text x="1322.3" y="18.5">146</text></g>
<g id="n147"><circle cx="1400.7" cy="593.3" r="13.3"/><text x="1400.7" y="596.1">147</text></g>
<g id="n148"><circle cx="1400.7" cy="669" r="13.3"/><text x="1400.7" y="671.8">148</text></g>
<g id="n149"><circle cx="1400.7" cy="360" r="13.3"/><text x="1400.7" y="362.8">149</text></g>
<g id="n150"><circle cx="1400.7" cy="242.7" r="13.3"/><text x="1400.7" y="245.5">150</text></g>
<g id="n151"><circle cx="1400.7" cy="407" r="13.3"/><text x="1400.7" y="409.8">151</text></g>
<g id="n152"><circle cx="1400.7" cy="204.7" r="13.3"/><text x="1400.7" y="207.5">152</text></g>
<g id="n153"><circle cx="1400.7" cy="166.7" r="13.3"/><text x="1400.7" y="169.5">153</text></g>
<g id="n154"><circle cx="1400.7" cy="129" r="13.3"/><text x="1400.7" y="131.8">154</text></g>
<g id="n155"><circle cx="1400.7" cy="91.7" r="13.3"/><text x="1400.7" y="94.5">155</text></g>
<g id="n156"><circle cx="1400.7" cy="53.7" r="13.3"/><text x="1400.7" y="56.5">156</text></g>
<g id="n157"><circle cx="1400.7" cy="630.7" r="13.3"/><text x="1400.7" y="633.5">157</text></g>
<g id="n158"><circle cx="1400.7" cy="280.7" r="13.3"/><text x="1400.7" y="283.5">158</text></g>
<g id="n159"><circle cx="1400.7" cy="479.3" r="13.3"/><text x="1400.7" y="482.1">159</text></g>
<g id="n160"><circle cx="1400.7" cy="517.3" r="13.3"/><text x="1400.7" y="520.1">160</text></g>
<g id="n161"><circle cx="1400.7" cy="555" r="13.3"/><text x="1400.7" y="557.8">161</text></g>
<g id="n162"><circle cx="1400.7" cy="15.7" r="13.3"/><text x="1400.7" y="18.5">162</text></g>
<g id="n163"><circle cx="1489.7" cy="593.3" r="13.3"/><text x="1489.7" y="596.1">163</text></g>
<g id="n164"><circle cx="1489.7" cy="669" r="13.3"/><text x="1489.7" y="671.8">164</text></g>
<g id="n165"><circle cx="1489.7" cy="365" r="13.3"/><text x="1489.7" y="367.8">165</text></g>
<g id="n166"><circle cx="1489.7" cy="242.7" r="13.3"/><text x="1489.7" y="245.5">166</text></g>
<g id="n167"><circle cx="1489.7" cy="404.3" r="13.3"/><text x="1489.7" y="407.1">167</text></g>
<g id="n168"><circle cx="1489.7" cy="204.7" r="13.3"/><text x="1489.7" y="207.5">168</text></g>
<g id="n169"><circle cx="1489.7" cy="166.7" r="13.3"/><text x="1489.7" y="169.5">169</text></g>
<g id="n170"><circle cx="1489.7" cy="129" r="13.3"/><text x="1489.7" y="131.8">170</text></g>
<g id="n171"><circle cx="1489.7" cy="91.7" r="13.3"/><text x="1489.7" y="94.5">171</text></g>
<g id="n172"><circle cx="1489.7" cy="53.7" r="13.3"/><text x="1489.7" y="56.5">172</text></g>
<g id="n173"><circle cx="1489.7" cy="630.7" r="13.3"/><text x="1489.7" y="633.5">173</text></g>
<g id="n174"><circle cx="1489.7" cy="280.7" r="13.3"/><text x="1489.7" y="283.5">174</text></g>
<g id="n175"><circle cx="1489.7" cy="479.3" r="13.3"/><text x="1489.7" y="482.1">175</text></g>
<g id="n176"><circle cx="1489.7" cy="517.3" r="13.3"/><text x="1489.7" y="520.1">176</text></g>
<g id="n177"><circle cx="1489.7" cy="555" r="13.3"/><text x="1489.7" y="557.8">177</text></g>
<g id="n178"><circle cx="1489.7" cy="15.7" r="13.3"/><text x="1489.7" y="18.5">178</text></g>
<g id="n179"><circle cx="1578.3" cy="593.3" r="13.3"/><text x="1578.3" y="596.1">179</text></g>
<g id="n180"><circle cx="1578.3" cy="669" r="13.3"/><text x="1578.3" y="671.8">180</text></g>
<g id="n181"><circle cx="1578.3" cy="366" r="13.3"/><text x="1578.3" y="368.8">181</text></g>
<g id="n182"><circle cx="1578.3" cy="242.7" r="13.3"/><text x="1578.3" y="245.5">182</text></g>
<g id="n183"><circle cx="1578.3" cy="404.3" r="13.3"/><text x="1578.3" y="407.1">183</text></g>
<g id="n184"><circle cx="1578.3" cy="204.7" r="13.3"/><text x="1578.3" y="207.5">184</text></g>
<g id="n185"><circle cx="1578.3" cy="166.7" r="13.3"/><text x="1578.3" y="169.5">185</text></g>
<g id="n186"><circle cx="1578.3" cy="129" r="13.3"/><text x="1578.3" y="131.8">186</text></g>
<g id="n187"><circle cx="1578.3" cy="91.7" r="13.3"/><text x="1578.3" y="94.5">187</text></g>
<g id="n188"><circle cx="1578.3" cy="53.7" r="13.3"/><text x="1578.3" y="56.5">188</text></g>
<g id="n189"><circle cx="1578.3" cy="630.7" r="13.3"/><text x="1578.3" y="633.5">189</text></g>
<g id="n190"><circle cx="1578.3" cy="280.7" r="13.3"/><text x="1578.3" y="283.5">190</text></g>
<g id="n191"><circle cx="1578.3" cy="441.7" r="13.3"/><text x="1578.3" y="444.5">191</text></g>
<g id="n192"><circle cx="1578.3" cy="479.3" r="13.3"/><text x="1578.3" y="482.1">192</text></g>
<g id="n193"><circle cx="1578.3" cy="517.3" r="13.3"/><text x="1578.3" y="520.1">193</text></g>
<g id="n194"><circle cx="1578.3" cy="555" r="13.3"/><text x="1578.3" y="557.8">194</text></g>
<g id="n195"><circle cx="1578.3" cy="15.7" r="13.3"/><text x="1578.3" y="18.5">195</text></g>
<g id="n196"><circle cx="1667.7" cy="593.3" r="13.3"/><text x="1667.7" y="596.1">196</text></g>
<g id="n197"><circle cx="1667.7" cy="669" r="13.3"/><text x="1667.7" y="671.8">197</text></g>
<g id="n198"><circle cx="1667.7" cy="366" r="13.3"/><text x="1667.7" y="368.8">198</text></g>
<g id="n199"><circle cx="1667.7" cy="242.7" r="13.3"/><text x="1667.7" y="245.5">199</text></g>
<g id="n200"><circle cx="1667.7" cy="403.7" r="13.3"/><text x="1667.7" y="406.5">200</text></g>
<g id="n201"><circle cx="1667.7" cy="204.7" r="13.3"/><text x="1667.7" y="207.5">201</text></g>
<g id="n202"><circle cx="1667.7" cy="166.7" r="13.3"/><text x="1667.7" y="169.5">202</text></g>
<g id="n203"><circle cx="1667.7" cy="129" r="13.3"/><text x="1667.7" y="131.8">203</text></g>
<g id="n204"><circle cx="1667.7" cy="91.7" r="13.3"/><text x="1667.7" y="94.5">204</text></g>
<g id="n205"><circle cx="1667.7" cy="53.7" r="13.3"/><text x="1667.7" y="56.5">205</text></g>
<g id="n206"><circle cx="1667.7" cy="630.7" r="13.3"/><text x="1667.7" y="633.5">206</text></g>
<g id="n207"><circle cx="1667.7" cy="280.7" r="13.3"/><text x="1667.7" y="283.5">207</text></g>
<g id="n208"><circle cx="1667.7" cy="442" r="13.3"/><text x="1667.7" y="444.8">208</text></g>
<g id="n209"><circle cx="1667.7" cy="479.3" r="13.3"/><text x="1667.7" y="482.1">209</text></g>
<g id="n210"><circle cx="1667.7" cy="517.3" r="13.3"/><text x="1667.7" y="520.1">210</text></g>
<g id="n211"><circle cx="1667.7" cy="555" r="13.3"/><text x="1667.7" y="557.8">211</text></g>
<g id="n212"><circle cx="1667.7" cy="15.7" r="13.3"/><text x="1667.7" y="18.5">212</text></g>
<g id="n213"><circle cx="1757" cy="593.3" r="13.3"/><text x="1757" y="596.1">213</text></g>
<g id="n214"><circle cx="1757" cy="669" r="13.3"/><text x="1757" y="671.8">214</text></g>
<g id="n215"><circle cx="1757" cy="399" r="13.3"/><text x="1757" y="401.8">215</text></g>
<g id="n216"><circle cx="1757" cy="242.7" r="13.3"/><text x="1757" y="245.5">216</text></g>
<g id="n217"><circle cx="1757" cy="436.7" r="13.3"/><text x="1757" y="439.5">217</text></g>
<g id="n218"><circle cx="1757" cy="204.7" r="13.3"/><text x="1757" y="207.5">218</text></g>
<g id="n219"><circle cx="1757" cy="166.7" r="13.3"/><text x="1757" y="169.5">219</text></g>
<g id="n220"><circle cx="1757" cy="129" r="13.3"/><text x="1757" y="131.8">220</text></g>
<g id="n221"><circle cx="1757" cy="91.7" r="13.3"/><text x="1757" y="94.5">221</text></g>
<g id="n222"><circle cx="1757" cy="53.7" r="13.3"/><text x="1757" y="56.5">222</text></g>
<g id="n223"><circle cx="1757" cy="630.7" r="13.3"/><text x="1757" y="633.5">223</text></g>
<g id="n224"><circle cx="1757" cy="280.7" r="13.3"/><text x="1757" y="283.5">224</text></g>
<g id="n225"><circle cx="1757" cy="479.3" r="13.3"/><text x="1757" y="482.1">225</text></g>
<g id="n226"><circle cx="1757" cy="517.3" r="13.3"/><text x="1757" y="520.1">226</text></g>
<g id="n227"><circle cx="1757" cy="555" r="13.3"/><text x="1757" y="557.8">227</text></g>
<g id="n228"><circle cx="1757" cy="15.7" r="13.3"/><text x="1757" y="18.5">228</text></g>
<g id="n229"><circle cx="1846" cy="593.3" r="13.3"/><text x="1846" y="596.1">229</text></g>
<g id="n230"><circle cx="1846" cy="669" r="13.3"/><text x="1846" y="671.8">230</text></g>
<g id="n231"><circle cx="1846" cy="399" r="13.3"/><text x="1846" y="401.8">231</text></g>
<g id="n232"><circle cx="1846" cy="242.7" r="13.3"/><text x="1846" y="245.5">232</text></g>
<g id="n233"><circle cx="1846" cy="436.7" r="13.3"/><text x="1846" y="439.5">233</text></g>
<g id="n234"><circle cx="1846" cy="204.7" r="13.3"/><text x="1846" y="207.5">234</text></g>
<g id="n235"><circle cx="1846" cy="166.7" r="13.3"/><text x="1846" y="169.5">235</text></g>
<g id="n236"><circle cx="1846" cy="129" r="13.3"/><text x="1846" y="131.8">236</text></g>
<g id="n237"><circle cx="1846" cy="91.7" r="13.3"/><text x="1846" y="94.5">237</text></g>
<g id="n238"><circle cx="1846" cy="53.7" r="13.3"/><text x="1846" y="56.5">238</text></g>
<g id="n239"><circle cx="1846" cy="630.7" r="13.3"/><text x="1846" y="633.5">239</text></g>
<g id="n240"><circle cx="1846" cy="280.7" r="13.3"/><text x="1846" y="283.5">240</text></g>
<g id="n241"><circle cx="1846" cy="479.3" r="13.3"/><text x="1846" y="482.1">241</text></g>
<g id="n242"><circle cx="1846" cy="517.3" r="13.3"/><text x="1846" y="520.1">242</text></g>
<g id="n243"><circle cx="1846" cy="555" r="13.3"/><text x="1846" y="557.8">243</text></g>
<g id="n244"><circle cx="1846" cy="15.7" r="13.3"/><text x="1846" y="18.5">244</text></g>
<g id="n245"><circle cx="1937.7" cy="593.3" r="13.3"/><text x="1937.7" y="596.1">245</text></g>
<g id="n246"><circle cx="1937.7" cy="669" r="13.3"/><text x="1937.7" y="671.8">246</text></g>
<g id="n247"><circle cx="1937.7" cy="399" r="13.3"/><text x="1937.7" y="401.8">247</text></g>
<g id="n248"><circle cx="1937.7" cy="262" r="13.3"/><text x="1937.7" y="264.8">248</text></g>
<g id="n249"><circle cx="1937.7" cy="436.7" r="13.3"/><text x="1937.7" y="439.5">249</text></g>
<g id="n250"><circle cx="1937.7" cy="166.7" r="13.3"/><text x="1937.7" y="169.5">250</text></g>
<g id="n251"><circle cx="1937.7" cy="129" r="13.3"/><text x="1937.7" y="131.8">251</text></g>
<g id="n252"><circle cx="1937.7" cy="91.7" r="13.3"/><text x="1937.7" y="94.5">252</text></g>
<g id="n253"><circle cx="1937.7" cy="53.7" r="13.3"/><text x="1937.7" y="56.5">253</text></g>
<g id="n254"><circle cx="1937.7" cy="630.7" r="13.3"/><text x="1937.7" y="633.5">254</text></g>
<g id="n255"><circle cx="1937.7" cy="479.3" r="13.3"/><text x="1937.7" y="482.1">255</text></g>
<g id="n256"><circle cx="1937.7" cy="517.3" r="13.3"/><text x="1937.7" y="520.1">256</text></g>
<g id="n257"><circle cx="1937.7" cy="555" r="13.3"/><text x="1937.7" y="557.8">257</text></g>
<g id="n258"><circle cx="1937.7" cy="15.7" r="13.3"/><text x="1937.7" y="18.5">258</text></g>
<g id="n259"><circle cx="2022.7" cy="555" r="13.3"/><text x="2022.7" y="557.8">259</text></g>
<g id="n260"><circle cx="2022.7" cy="639.3" r="13.3"/><text x="2022.7" y="642.1">260</text></g>
<g id="n261"><circle cx="2022.7" cy="401" r="13.3"/><text x="2022.7" y="403.8">261</text></g>
<g id="n262"><circle cx="2022.7" cy="340" r="13.3"/><text x="2022.7" y="342.8">262</text></g>
<g id="n263"><circle cx="2022.7" cy="439" r="13.3"/><text x="2022.7" y="441.8">263</text></g>
<g id="n264"><circle cx="2022.7" cy="171" r="13.3"/><text x="2022.7" y="173.8">264</text></g>
<g id="n265"><circle cx="2022.7" cy="132.7" r="13.3"/><text x="2022.7" y="135.5">265</text></g>
<g id="n266"><circle cx="2022.7" cy="93" r="13.3"/><text x="2022.7" y="95.8">266</text></g>
<g id="n267"><circle cx="2022.7" cy="53.7" r="13.3"/><text x="2022.7" y="56.5">267</text></g>
<g id="n268"><circle cx="2022.7" cy="596" r="13.3"/><text x="2022.7" y="598.8">268</text></g>
<g id="n269"><circle cx="2022.7" cy="476.7" r="13.3"/><text x="2022.7" y="479.5">269</text></g>
<g id="n270"><circle cx="2022.7" cy="516" r="13.3"/><text x="2022.7" y="518.8">270</text></g>
<g id="n271"><circle cx="2022.7" cy="15.7" r="13.3"/><text x="2022.7" y="18.5">271</text></g>
<g id="n272"><circle cx="2112" cy="519" r="13.3"/><text x="2112" y="521.8">272</text></g>
<g id="n273"><circle cx="2112" cy="613.3" r="13.3"/><text x="2112" y="616.1">273</text></g>
<g id="n274"><circle cx="2112" cy="439" r="13.3"/><text x="2112" y="441.8">274</text></g>
<g id="n275"><circle cx="2112" cy="286.7" r="13.3"/><text x="2112" y="289.5">275</text></g>
<g id="n276"><circle cx="2112" cy="134" r="13.3"/><text x="2112" y="136.8">276</text></g>
<g id="n277"><circle cx="2112" cy="96" r="13.3"/><text x="2112" y="98.8">277</text></g>
<g id="n278"><circle cx="2112" cy="55.3" r="13.3"/><text x="2112" y="58.1">278</text></g>
<g id="n279"><circle cx="2112" cy="563.3" r="13.3"/><text x="2112" y="566.1">279</text></g>
<g id="n280"><circle cx="2196.3" cy="439" r="13.3"/><text x="2196.3" y="441.8">280</text></g>
<g id="n281"><circle cx="2196.3" cy="519" r="13.3"/><text x="2196.3" y="521.8">281</text></g>
<g id="n282"><circle cx="2196.3" cy="96" r="13.3"/><text x="2196.3" y="98.8">282</text></g>
<g id="n283"><circle cx="2196.3" cy="57" r="13.3"/><text x="2196.3" y="59.8">283</text></g>
<g id="n284"><circle cx="2196.3" cy="478.3" r="13.3"/><text x="2196.3" y="481.1">284</text></g>
<g id="n285"><circle cx="2288.3" cy="440" r="13.3"/><text x="2288.3" y="442.8">285</text></g>
<g id="n286"><circle cx="2288.3" cy="516.7" r="13.3"/><text x="2288.3" y="519.5">286</text></g>
<g id="n287"><circle cx="2288.3" cy="96" r="13.3"/><text x="2288.3" y="98.8">287</text></g>
<g id="n288"><circle cx="2288.3" cy="478.3" r="13.3"/><text x="2288.3" y="481.1">288</text></g>
<g id="n289"><circle cx="2380" cy="450" r="13.3"/><text x="2380" y="452.8">289</text></g>
<g id="n290"><circle cx="2380" cy="493.3" r="13.3"/><text x="2380" y="496.1">290</text></g>
<g id="n291"><circle cx="2472" cy="469.3" r="13.3"/><text x="2472" y="472.1">291</text></g>
<g id="n292"><circle cx="2531.3" cy="469.3" r="15.5"/><circle cx="2531.3" cy="469.3" r="12.3"/><text x="2531.3" y="472.1">292</text></g>
</g>
</svg>
